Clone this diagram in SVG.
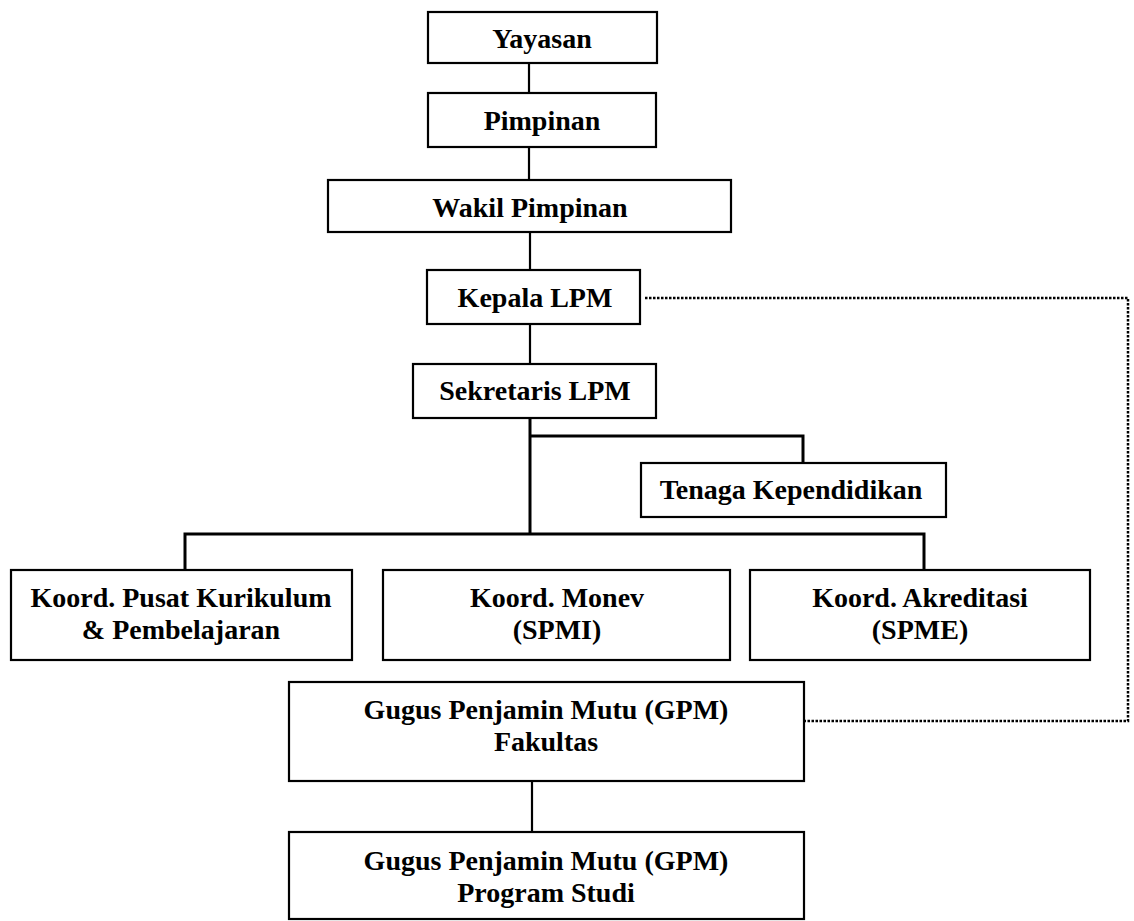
<svg xmlns="http://www.w3.org/2000/svg" width="1134" height="921" viewBox="0 0 1134 921">
<style>
.box{fill:#fff;stroke:#000;stroke-width:2.2}
.t{font-family:"Liberation Serif","Times New Roman",serif;font-weight:bold;font-size:28px;fill:#000;text-anchor:middle}
.c{fill:none;stroke:#000;stroke-width:2.2}
.ct{fill:none;stroke:#000;stroke-width:3}
.d{fill:none;stroke:#000;stroke-width:2.5;stroke-dasharray:2.5 1.5}
</style>
<rect width="1134" height="921" fill="#fff"/>
<g id="connectors">
<line class="c" x1="529" y1="63" x2="529" y2="93"/>
<line class="c" x1="529" y1="147" x2="529" y2="180"/>
<line class="c" x1="530" y1="232" x2="530" y2="270"/>
<line class="c" x1="530" y1="324" x2="530" y2="364"/>
<line class="ct" x1="530" y1="418" x2="530" y2="534"/>
<polyline class="ct" points="530,436 803,436 803,463"/>
<polyline class="ct" points="185,570 185,534 924,534 924,570"/>
<line class="c" x1="532" y1="781" x2="532" y2="832"/>
<polyline class="d" points="645,298 1128,298 1128,721 798,721"/>
</g>
<g id="yayasan"><rect class="box" x="428" y="12" width="229" height="51"/><text class="t" x="542" y="48">Yayasan</text></g>
<g id="pimpinan"><rect class="box" x="428" y="93" width="228" height="54"/><text class="t" x="542" y="130">Pimpinan</text></g>
<g id="wakil"><rect class="box" x="328" y="180" width="403" height="52"/><text class="t" x="530" y="217">Wakil Pimpinan</text></g>
<g id="kepala"><rect class="box" x="427" y="270" width="213" height="54"/><text class="t" x="535" y="307">Kepala LPM</text></g>
<g id="sekretaris"><rect class="box" x="413" y="364" width="243" height="54"/><text class="t" x="535" y="400">Sekretaris LPM</text></g>
<g id="tenaga"><rect class="box" x="641" y="463" width="305" height="54"/><text class="t" x="791" y="499">Tenaga Kependidikan</text></g>
<g id="kurikulum"><rect class="box" x="11" y="570" width="341" height="90"/><text class="t" x="181" y="607">Koord. Pusat Kurikulum</text><text class="t" x="181" y="639">&amp; Pembelajaran</text></g>
<g id="monev"><rect class="box" x="383" y="570" width="347" height="90"/><text class="t" x="557" y="607">Koord. Monev</text><text class="t" x="557" y="639">(SPMI)</text></g>
<g id="akreditasi"><rect class="box" x="750" y="570" width="340" height="90"/><text class="t" x="920" y="607">Koord. Akreditasi</text><text class="t" x="920" y="639">(SPME)</text></g>
<g id="gpm-fakultas"><rect class="box" x="289" y="682" width="515" height="99"/><text class="t" x="546" y="719">Gugus Penjamin Mutu (GPM)</text><text class="t" x="546" y="751">Fakultas</text></g>
<g id="gpm-prodi"><rect class="box" x="289" y="832" width="515" height="87"/><text class="t" x="546" y="870">Gugus Penjamin Mutu (GPM)</text><text class="t" x="546" y="902">Program Studi</text></g>
</svg>
